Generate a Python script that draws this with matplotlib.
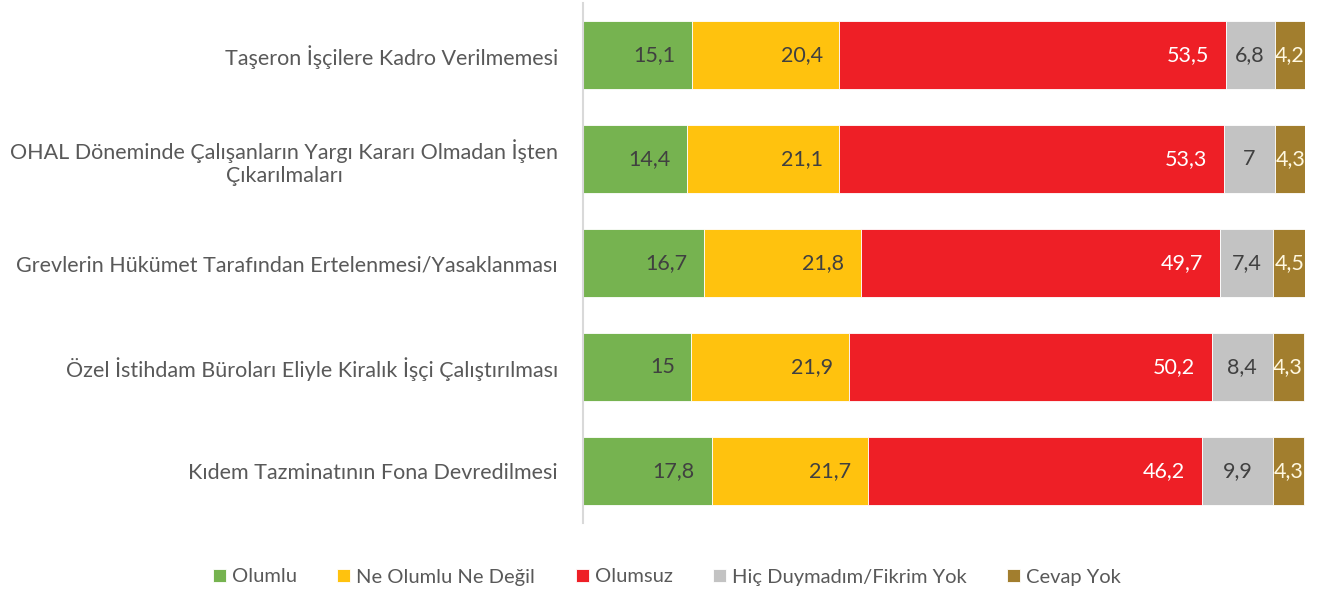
import matplotlib
matplotlib.use("Agg")
import matplotlib.pyplot as plt
import numpy as np

categories = [
    "Taşeron İşçilere Kadro Verilmemesi",
    "OHAL Döneminde Çalışanların Yargı Kararı Olmadan İşten\nÇıkarılmaları",
    "Grevlerin Hükümet Tarafından Ertelenmesi/Yasaklanması",
    "Özel İstihdam Büroları Eliyle Kiralık İşçi Çalıştırılması",
    "Kıdem Tazminatının Fona Devredilmesi",
]
series_names = ["Olumlu", "Ne Olumlu Ne Değil", "Olumsuz", "Hiç Duymadım/Fikrim Yok", "Cevap Yok"]
olumlu = [15.1, 14.4, 16.7, 15, 17.8]
ne_olumlu = [20.4, 21.1, 21.8, 21.9, 21.7]
olumsuz = [53.5, 53.3, 49.7, 50.2, 46.2]
duymadim = [6.8, 7, 7.4, 8.4, 9.9]
cevap_yok = [4.2, 4.3, 4.5, 4.3, 4.3]
value_labels = [
    ["15,1", "14,4", "16,7", "15", "17,8"],
    ["20,4", "21,1", "21,8", "21,9", "21,7"],
    ["53,5", "53,3", "49,7", "50,2", "46,2"],
    ["6,8", "7", "7,4", "8,4", "9,9"],
    ["4,2", "4,3", "4,5", "4,3", "4,3"],
]

colors = ["#76B350", "#FFC20E", "#EE1F26", "#C3C3C3", "#A27E2E"]
text_colors = ["#404040", "#404040", "white", "#404040", "#FFF8E0"]

plt.rcParams['font.family'] = ['Lato', 'DejaVu Sans']

fig = plt.figure(figsize=(13.17, 5.96), dpi=100)
ax = fig.add_axes([583/1317, 1 - 523/596, (1305 - 583)/1317, 520/596])

data = [olumlu, ne_olumlu, olumsuz, duymadim, cevap_yok]
y = np.arange(len(categories))
left = np.zeros(len(categories))
for i, (vals, name) in enumerate(zip(data, series_names)):
    vals = np.array(vals, dtype=float)
    ax.barh(y, vals, left=left, height=0.66, color=colors[i], label=name,
            edgecolor='white', linewidth=0.6)
    for j in range(len(categories)):
        if i < 3:
            ax.text(left[j] + vals[j] - 2.3, y[j], value_labels[i][j], ha='right', va='center',
                    color=text_colors[i], fontsize=15.5)
        else:
            ax.text(left[j] + vals[j] / 2, y[j], value_labels[i][j], ha='center', va='center',
                    color=text_colors[i], fontsize=15.5)
    left += vals

ax.set_xlim(0, 100)
ax.set_ylim(4.5, -0.5)
ax.set_yticks(y)
ax.set_yticklabels(categories, fontsize=15.5, color="#595959", ha='right', multialignment='center')
ax.tick_params(axis='y', length=0, pad=18)
ax.set_xticks([])
for s in ['top', 'right', 'bottom']:
    ax.spines[s].set_visible(False)
ax.spines['left'].set_color('#D9D9D9')
ax.spines['left'].set_linewidth(1.5)

handles, labels = ax.get_legend_handles_labels()
fig.legend(handles, labels, loc='center', bbox_to_anchor=(667/1317, 1 - 577/596), ncol=5,
           frameon=False, fontsize=14.5, handlelength=0.65, handleheight=0.65,
           handletextpad=0.3, columnspacing=2.0, labelcolor="#595959")

fig.savefig("out.png", dpi=100)
